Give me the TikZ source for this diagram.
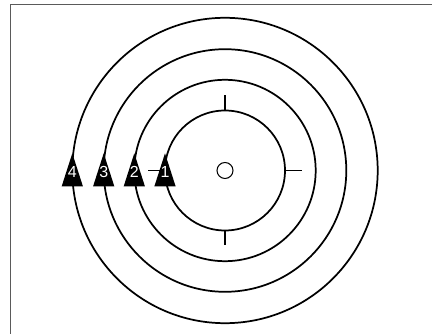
\documentclass[tikz,border=0pt]{standalone}
\usepackage{fontspec}
\setmainfont{Liberation Sans}
\definecolor{framecol}{HTML}{5A5A5A}
\begin{document}
\begin{tikzpicture}[x=0.75pt,y=-0.75pt,
  ring/.style={line width=1.3pt, draw=black},
  tick/.style={line width=0.9pt, draw=black},
  marker/.style={fill=black},
  num/.style={text=white, font=\fontsize{12pt}{14pt}\selectfont, inner sep=0pt}]
\useasboundingbox (0,0) rectangle (432,334);
\draw[framecol, line width=1.1pt] (10.5,334) -- (10.5,4.5) -- (432,4.5);
\coordinate (c) at (225,170.5);
\foreach \r in {60,90.7,121.3,152.7}
  \draw[ring] (c) circle[radius={\r*0.75pt}];
\draw[line width=0.8pt] (c) circle[radius=6pt];
\draw[tick] (225,95.5) -- (225,110.5);
\draw[tick] (225,230.5) -- (225,245.5);
\draw[tick] (285,170.5) -- (301.5,170.5);
\draw[tick] (148,170.5) -- (165,170.5);
\foreach \i/\r in {1/60,2/90.7,3/121.3,4/152.7}{
  \pgfmathsetmacro{\ax}{225-\r}
  \fill[marker] (\ax,153.3) -- (\ax-10.6,186.3) -- (\ax+10.6,186.3) -- cycle;
  \node[num] (n\i) at (\ax,172) {\i};
}
\end{tikzpicture}
\end{document}
